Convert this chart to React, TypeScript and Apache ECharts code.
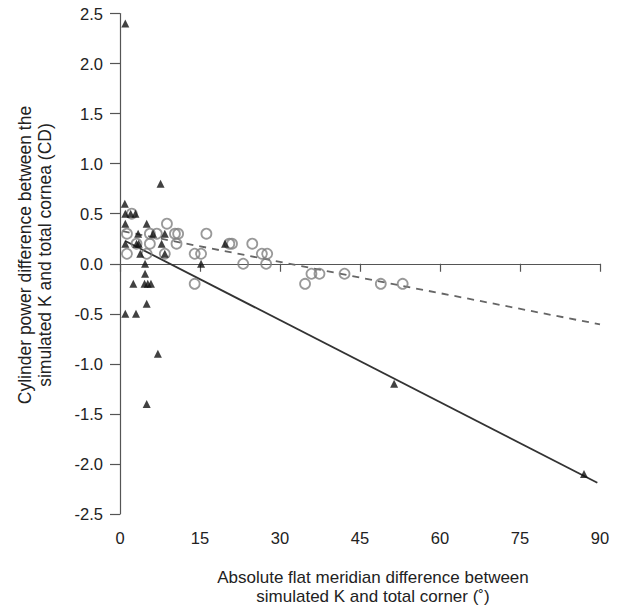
import React, { useEffect, useRef } from "react";
import * as echarts from "echarts";

// Absolute flat meridian difference (°), cylinder power difference (D)
const triangleData: [number, number][] = [
  [1, 2.4], [0.9, 0.6], [7.6, 0.8],
  [1, 0.5], [2, 0.5], [2.9, 0.5],
  [1, 0.4], [5, 0.4],
  [3.4, 0.3], [6.2, 0.3], [8.4, 0.3],
  [1, 0.2], [3.1, 0.2], [3.5, 0.2], [7.8, 0.2], [19.7, 0.2],
  [3.8, 0.1], [8.4, 0.1],
  [4.7, 0.0], [15.2, 0.0],
  [4.7, -0.1],
  [2.5, -0.2], [4.6, -0.2], [5.2, -0.2], [5.8, -0.2],
  [5, -0.4],
  [1, -0.5], [3, -0.5],
  [7.1, -0.9],
  [5, -1.4],
  [51.4, -1.2],
  [87, -2.1],
];

const circleData: [number, number][] = [
  [2.2, 0.5], [8.8, 0.4],
  [1.3, 0.3], [5.6, 0.3], [6.9, 0.3], [10.3, 0.3], [10.9, 0.3], [16.2, 0.3],
  [3.1, 0.2], [5.6, 0.2], [10.6, 0.2], [20.5, 0.2], [21, 0.2], [24.8, 0.2],
  [1.3, 0.1], [5, 0.1], [8.4, 0.1], [14, 0.1], [15.2, 0.1], [26.6, 0.1], [27.6, 0.1],
  [23.1, 0.0], [27.4, 0.0],
  [14, -0.2],
  [35.9, -0.1], [37.4, -0.1], [42.1, -0.1],
  [34.7, -0.2], [48.9, -0.2], [53, -0.2],
];

// Regression lines (endpoints)
const triangleFit: [number, number][] = [[1, 0.228], [89.5, -2.188]];
const circleFit: [number, number][] = [[0.5, 0.325], [90, -0.606]];

const xTicks = { min: 0, max: 90, interval: 15 };
const yTicks = { min: -2.5, max: 2.5, interval: 0.5 };

const yName = ["Cylinder power difference between the", "simulated K and total cornea (CD)"];
const xName = ["Absolute flat meridian difference between", "simulated K and total corner (˚)"];

const FONT = "'Liberation Sans', Arial, Helvetica, sans-serif";

export default function App() {
  const ref = useRef<HTMLDivElement>(null);
  useEffect(() => {
    document.body.style.margin = "0";
    if (!ref.current) return;
    const chart = echarts.init(ref.current, null, { renderer: "svg" });
    const axisLine = { show: true, lineStyle: { color: "#555", width: 1.2 } };
    chart.setOption({
      animation: false,
      backgroundColor: "#fff",
      grid: { left: 120, right: 19, top: 13.5, bottom: 92 },
      xAxis: {
        type: "value",
        ...xTicks,
        axisLine,
        axisTick: { show: true, length: 8, lineStyle: { color: "#555", width: 1.2 } },
        splitLine: { show: false },
        axisLabel: { color: "#222", fontSize: 16.5, fontFamily: FONT, margin: 15 },
      },
      yAxis: {
        type: "value",
        ...yTicks,
        axisLine,
        axisTick: { show: true, length: 10, lineStyle: { color: "#555", width: 1.2 } },
        splitLine: { show: false },
        axisLabel: {
          color: "#222",
          fontSize: 16.5,
          fontFamily: FONT,
          margin: 17,
          formatter: (v: number) => v.toFixed(1),
        },
      },
      graphic: [
        {
          type: "text",
          x: 373,
          y: 587,
          style: {
            text: xName.join("\n"),
            fontSize: 17,
            fontFamily: FONT,
            fill: "#222",
            align: "center",
            verticalAlign: "middle",
            lineHeight: 19,
          },
        },
        {
          type: "text",
          x: 35,
          y: 255,
          rotation: Math.PI / 2,
          style: {
            text: yName.join("\n"),
            fontSize: 17.5,
            fontFamily: FONT,
            fill: "#222",
            align: "center",
            verticalAlign: "middle",
            lineHeight: 20,
          },
        },
      ],
      series: [
        {
          type: "line",
          data: circleFit,
          symbol: "none",
          lineStyle: { color: "#666", width: 1.8, type: [7, 6] },
          z: 1,
        },
        {
          type: "line",
          data: triangleFit,
          symbol: "none",
          lineStyle: { color: "#333", width: 1.8 },
          z: 1,
        },
        {
          type: "scatter",
          data: circleData,
          symbol: "circle",
          symbolSize: 10,
          itemStyle: { color: "rgba(0,0,0,0)", borderColor: "#808080", borderWidth: 1.8 },
          z: 2,
        },
        {
          type: "scatter",
          data: triangleData,
          symbol: "triangle",
          symbolSize: 8,
          itemStyle: { color: "#111" },
          z: 3,
        },
      ],
    });
    return () => chart.dispose();
  }, []);
  return <div ref={ref} style={{ width: 619, height: 606 }} />;
}
